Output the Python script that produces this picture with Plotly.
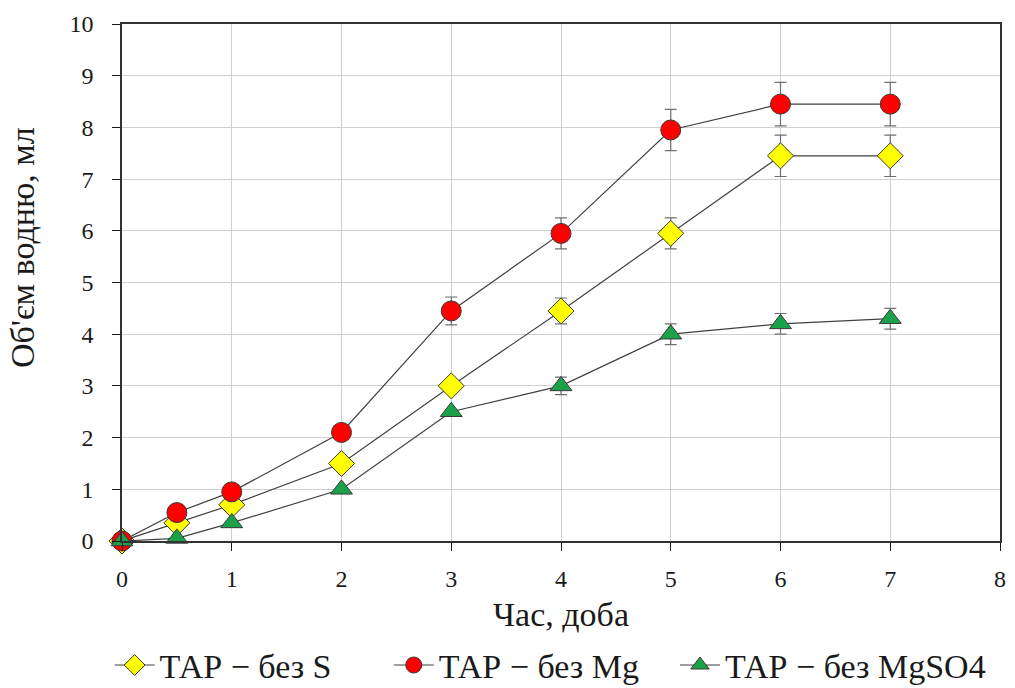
import plotly.graph_objects as go

days = [0, 0.5, 1, 2, 3, 4, 5, 6, 7]
tap_s = [0, 0.35, 0.7, 1.5, 3.0, 4.45, 5.95, 7.45, 7.45]
tap_s_err = [0, 0, 0, 0, 0.1, 0.25, 0.3, 0.4, 0.4]
tap_mg = [0, 0.55, 0.95, 2.1, 4.45, 5.95, 7.95, 8.45, 8.45]
tap_mg_err = [0, 0, 0, 0, 0.27, 0.3, 0.4, 0.42, 0.42]
tap_mgso4 = [0, 0.05, 0.35, 1.0, 2.5, 3.0, 4.0, 4.2, 4.3]
tap_mgso4_err = [0, 0, 0, 0, 0, 0.17, 0.2, 0.2, 0.2]

names = ["ТАР − без S", "ТАР − без Mg", "ТАР − без MgSO4"]
x_ticks = [0, 1, 2, 3, 4, 5, 6, 7, 8]
y_ticks = list(range(0, 11))

fig = go.Figure()

series = [
    (tap_s, tap_s_err, names[0], "diamond", "#ffff00", 20, "legend"),
    (tap_mg, tap_mg_err, names[1], "circle", "#ff0000", 20, "legend2"),
    (tap_mgso4, tap_mgso4_err, names[2], "triangle-up", "#1aa14a", 19, "legend3"),
]

for ys, err, name, sym, col, size, leg in series:
    fig.add_trace(go.Scatter(
        x=days, y=ys, name=name, mode="lines+markers", legend=leg,
        line=dict(color="#404040", width=1.2),
        marker=dict(symbol=sym, size=size, color=col,
                    line=dict(color="#3a3a3a", width=1)),
        error_y=dict(type="data", array=err, visible=True,
                     color="#707070", thickness=1.2, width=6),
        cliponaxis=False,
    ))

font_family = "'Liberation Serif', 'Times New Roman', serif"

axis_common = dict(
    ticks="outside", ticklen=8, tickcolor="#1a1a1a", showgrid=True,
    gridcolor="#d0d0d0", gridwidth=1, showline=True, mirror=True,
    linecolor="#333333", linewidth=1.5, zeroline=False, automargin=False,
    tickfont=dict(size=24, family=font_family, color="#1a1a1a"),
)


def legend_at(xpos):
    return dict(orientation="h", xref="container", x=xpos, xanchor="left",
                yref="container", y=0.075, yanchor="top",
                font=dict(size=34, family=font_family, color="#1a1a1a"),
                itemwidth=40, bgcolor="rgba(0,0,0,0)")


fig.update_layout(
    width=1015, height=688,
    margin=dict(l=122, r=15, t=24, b=147),
    paper_bgcolor="white", plot_bgcolor="white",
    font=dict(family=font_family, size=20, color="#1a1a1a"),
    showlegend=True,
    legend=legend_at(0.108),
    legend2=legend_at(0.383),
    legend3=legend_at(0.665),
    xaxis=dict(range=[0, 8], tickvals=x_ticks, ticklabelstandoff=7,
               title=dict(text="Час, доба", font=dict(size=34, family=font_family), standoff=12),
               **axis_common),
    yaxis=dict(range=[0, 10], tickvals=y_ticks, ticklabelstandoff=14,
               **axis_common),
    annotations=[dict(text="Об'єм водню, мл", textangle=-90,
                      xref="paper", yref="paper",
                      x=-(122 - 22) / 878, y=(541 - 248) / 517,
                      xanchor="center", yanchor="middle", showarrow=False,
                      font=dict(size=34, family=font_family, color="#1a1a1a"))],
)

fig.write_html("out.html", config={"displayModeBar": False},
               post_script="document.body.style.margin='0';document.body.style.padding='0';")
